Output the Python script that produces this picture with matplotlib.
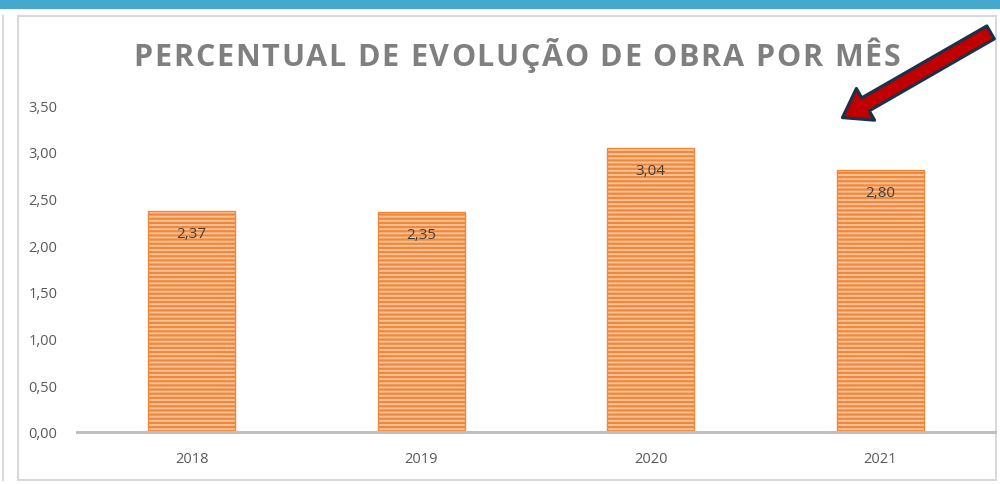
import matplotlib
matplotlib.use("Agg")
import matplotlib.pyplot as plt
from matplotlib.patches import Rectangle, FancyArrowPatch

categories = ["2018", "2019", "2020", "2021"]
values = [2.37, 2.35, 3.04, 2.80]
yticks = [0.0, 0.5, 1.0, 1.5, 2.0, 2.5, 3.0, 3.5]
title = "PERCENTUAL DE EVOLUÇÃO DE OBRA POR MÊS"

plt.rcParams['font.family'] = ['Open Sans', 'DejaVu Sans']
plt.rcParams['hatch.linewidth'] = 1.6

fig = plt.figure(figsize=(10, 4.85), dpi=100)
W, H = 1000, 485

# top blue band
fig.patches.append(Rectangle((0, 1 - 10 / H), 1, 10 / H, transform=fig.transFigure,
                             facecolor='#46A8CE', edgecolor='none', zorder=-2))
# chart frame
fig.patches.append(Rectangle((18 / W, 1 - 481 / H), 978 / W, (481 - 17) / H,
                             transform=fig.transFigure, facecolor='white',
                             edgecolor='#D9D9D9', linewidth=1.5, zorder=-2))
# left panel edge
fig.lines.append(plt.Line2D([3 / W, 3 / W], [1 - 481 / H, 1 - 17 / H],
                            transform=fig.transFigure, color='#D9D9D9', linewidth=1.5,
                            zorder=-2))

ax = fig.add_axes([77 / W, (H - 433) / H, (995 - 77) / W, (433 - 106) / H])
ax.set_zorder(3)
ax.set_facecolor('none')
x = range(len(categories))
bars = ax.bar(x, values, width=0.38, color='#F9C29A', edgecolor='#F0883A',
              hatch='----', linewidth=1.0, zorder=2)
for xi, v in zip(x, values):
    ax.text(xi, v - 0.16, f"{v:.2f}".replace('.', ','), ha='center', va='top',
            fontsize=11, color='#404040', zorder=3)

ax.set_xlim(-0.5, len(categories) - 0.5)
ax.set_ylim(0, 3.5)
ax.set_yticks(yticks)
ax.set_yticklabels([f"{t:.2f}".replace('.', ',') for t in yticks], fontsize=10.5, color='#595959')
ax.set_xticks(list(x))
ax.set_xticklabels(categories, fontsize=10.5, color='#595959')
ax.tick_params(axis='y', length=0, pad=14)
ax.tick_params(axis='x', length=0, pad=14)
for s in ['top', 'right', 'left']:
    ax.spines[s].set_visible(False)
ax.spines['bottom'].set_color('#BFBFBF')
ax.spines['bottom'].set_linewidth(2.2)

# title with letter spacing
renderer = fig.canvas.get_renderer()
tkw = dict(fontsize=22, fontweight='bold', color='#7F7F7F', va='center', ha='left')
def text_width(s):
    t = fig.text(0, 0, s, **tkw)
    w = t.get_window_extent(renderer).width
    t.remove()
    return w
x0, x1 = 133, 900
full_w = text_width(title)
extra = (x1 - x0 - full_w) / (len(title) - 1)
for i, ch in enumerate(title):
    if ch == ' ':
        continue
    px = x0 + (text_width(title[:i]) if i > 0 else 0) + i * extra
    fig.text(px / W, 1 - 58 / H, ch, **tkw)

# arrow
arrow = FancyArrowPatch((993 / W, 1 - 32 / H), (840 / W, 1 - 120 / H),
                        transform=fig.transFigure,
                        arrowstyle='simple,head_width=2.2,head_length=1.6,tail_width=0.9',
                        mutation_scale=12, facecolor='#C00000', edgecolor='#17324A',
                        linewidth=2.2, zorder=5)
fig.patches.append(arrow)

fig.savefig('out.png', dpi=100)
